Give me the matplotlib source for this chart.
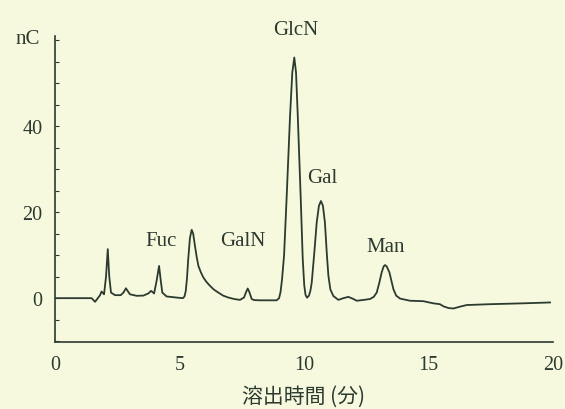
import numpy as np
import matplotlib
matplotlib.use('Agg')
import matplotlib.pyplot as plt
from matplotlib.ticker import MultipleLocator

# elution time (min) and detector signal (nC)
time_min = [0.0, 1.47, 1.61, 1.81, 1.87, 1.97, 2.05, 2.12, 2.18, 2.25, 2.41, 2.64,
            2.75, 2.85, 2.95, 3.01, 3.28, 3.55, 3.75, 3.86, 3.98, 4.08, 4.18, 4.25,
            4.31, 4.48, 4.95, 5.14, 5.2, 5.25, 5.3, 5.35, 5.42, 5.49, 5.55, 5.62,
            5.69, 5.76, 5.86, 5.96, 6.08, 6.22, 6.38, 6.56, 6.75, 6.96, 7.2, 7.43,
            7.59, 7.68, 7.74, 7.8, 7.9, 8.0, 8.23, 8.9, 9.0, 9.06, 9.12, 9.2, 9.3,
            9.44, 9.53, 9.61, 9.68, 9.75, 9.87, 9.95, 10.01, 10.06, 10.12, 10.2,
            10.26, 10.31, 10.42, 10.51, 10.6, 10.68, 10.76, 10.84, 10.92, 10.98,
            11.06, 11.18, 11.38, 11.58, 11.78, 11.95, 12.12, 12.4, 12.65, 12.8,
            12.92, 13.02, 13.12, 13.2, 13.25, 13.32, 13.43, 13.52, 13.59, 13.7,
            13.86, 14.26, 14.79, 15.19, 15.46, 15.6, 15.8, 16.0, 16.25, 16.53,
            17.47, 18.8, 19.88]
signal_nc = [0.0, 0.0, -0.85, 0.7, 1.55, 0.9, 5.0, 11.4, 5.0, 1.3, 0.7, 0.7,
             1.3, 2.3, 1.4, 0.9, 0.55, 0.6, 1.1, 1.7, 1.1, 4.0, 7.5, 4.0,
             1.3, 0.4, 0.1, 0.0, 0.4, 1.6, 4.5, 9.0, 14.0, 15.9, 15.0, 12.2,
             9.6, 7.5, 6.0, 4.8, 3.8, 2.9, 2.0, 1.3, 0.6, 0.15, -0.2, -0.4,
             0.15, 1.5, 2.25, 1.5, -0.2, -0.45, -0.5, -0.5, 0.0, 1.5, 4.5, 10.0, 23.0,
             42.4, 52.5, 56.0, 52.5, 42.4, 23.0, 9.0, 3.0, 0.8, 0.1, 0.6,
             1.8, 3.6, 11.0, 17.6, 21.5, 22.6, 21.5, 17.6, 10.0, 5.2,
             2.0, 0.5, -0.4, 0.0, 0.3, -0.1, -0.6, -0.4, -0.2, 0.3,
             1.3, 3.5, 6.0, 7.4, 7.7, 7.4, 6.0, 3.8, 2.1, 0.6,
             -0.1, -0.6, -0.7, -1.2, -1.4, -1.9, -2.3, -2.4, -2.0, -1.6,
             -1.4, -1.2, -1.0]

peak_names = ['Fuc', 'GalN', 'GlcN', 'Gal', 'Man']
label_t = [4.26, 7.55, 9.68, 10.72, 13.29]
label_v = [13.5, 13.5, 62.6, 28.1, 12.1]

x_ticks = [0, 5, 10, 15, 20]
y_ticks = [0, 20, 40]

bg = '#f6f9de'
ink = '#2c3a30'

plt.rcParams['font.family'] = ['Liberation Serif', 'DejaVu Serif']

fig = plt.figure(figsize=(5.65, 4.1), dpi=100, facecolor=bg)
ax = fig.add_axes([0.0973, 0.1634, 0.8815, 0.7464])
ax.set_facecolor(bg)

ax.plot(time_min, signal_nc, color=ink, lw=1.3, solid_joinstyle='round')

ax.set_xlim(0, 20)
ax.set_ylim(-10.2, 61)
ax.spines['top'].set_visible(False)
ax.spines['right'].set_visible(False)
for s in ['left', 'bottom']:
    ax.spines[s].set_color(ink)
    ax.spines[s].set_linewidth(1.2)

ax.set_xticks(x_ticks)
ax.set_yticks(y_ticks)
ax.yaxis.set_minor_locator(MultipleLocator(5))
ax.tick_params(axis='x', length=0, pad=9, labelsize=14.5, colors=ink)
ax.tick_params(axis='y', which='both', direction='in', length=3, width=0.8,
               pad=9, labelsize=14.5, colors=ink)

for name, t, v in zip(peak_names, label_t, label_v):
    ax.text(t, v, name, ha='center', va='center', fontsize=15, color=ink, clip_on=False)

ax.text(-1.1, 60.5, 'nC', ha='center', va='center', fontsize=15, color=ink, clip_on=False)

ax.set_xlabel('溶出時間 (分)', fontsize=15, color=ink, labelpad=8,
              family=['Noto Sans CJK JP', 'DejaVu Sans'])

plt.savefig('out.png', dpi=100, facecolor=bg)
